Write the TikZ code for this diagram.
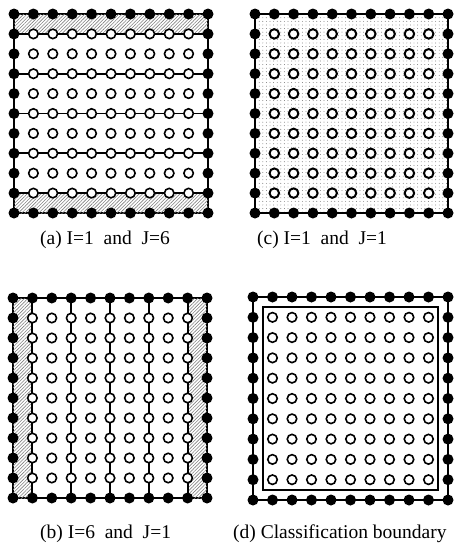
\documentclass[tikz,border=0pt]{standalone}
\usepackage{fontspec}
\setmainfont{Liberation Serif}
\usetikzlibrary{patterns.meta,calc}
\pgfdeclarelayer{background}
\pgfsetlayers{background,main}
\tikzset{
  bdot/.style={circle,fill=black,draw=none,minimum size=11pt,inner sep=0pt},
  wdot/.style={circle,fill=white,draw=black,line width=1.6pt,minimum size=9.5pt,inner sep=0pt},
  wdotc/.style={wdot,line width=2pt},
  gridline/.style={line width=1.9pt},
  hatch/.style={pattern={Lines[angle=45,distance=2.4pt,line width=0.6pt]},pattern color=black!50},
  dotfill/.style={pattern={Dots[distance=3.6pt,radius=0.45pt]},pattern color=black!60},
  caption/.style={anchor=base west,inner sep=0pt,font=\fontsize{19.5}{22}\selectfont},
  inner box/.style={draw=black,line width=1.6pt}
}
\newcommand\mkpanel[6]{%
  \foreach \i in {0,...,10}{
    \foreach \j in {0,...,10}{
      \pgfmathtruncatemacro\bd{(\i==0)||(\i==10)||(\j==0)||(\j==10)}
      \ifnum\bd=1
        \node[bdot] (#1-\i-\j) at ({#2+\i*#4},{#3+\j*#5}) {};
      \else
        \node[#6] (#1-\i-\j) at ({#2+\i*#4},{#3+\j*#5}) {};
      \fi
    }
  }
  \begin{pgfonlayer}{background}
    \draw[gridline] (#1-0-0.center) -- (#1-10-0.center) -- (#1-10-10.center) -- (#1-0-10.center) -- cycle;
  \end{pgfonlayer}
}
\begin{document}
\begin{tikzpicture}[x=1pt,y=-1pt]
\useasboundingbox (0,0) rectangle (461,547);

% (a)
\mkpanel{a}{14}{14}{19.4}{19.9}{wdot}
\begin{pgfonlayer}{background}
  \fill[hatch] (a-0-0.center) rectangle (a-10-1.center);
  \fill[hatch] (a-0-9.center) rectangle (a-10-10.center);
  \foreach \r in {1,3,5,7,9}{
    \draw[gridline] (a-0-\r.center) -- (a-10-\r.center);
  }
\end{pgfonlayer}

% (c)
\begin{pgfonlayer}{background}
  \fill[dotfill] (255,14) rectangle (448,213);
\end{pgfonlayer}
\mkpanel{c}{255}{14}{19.3}{19.9}{wdotc}

% (b)
\mkpanel{b}{13}{298}{19.4}{20}{wdot}
\begin{pgfonlayer}{background}
  \fill[hatch] (b-0-0.center) rectangle (b-1-10.center);
  \fill[hatch] (b-9-0.center) rectangle (b-10-10.center);
  \foreach \c in {1,3,5,7,9}{
    \draw[gridline] (b-\c-0.center) -- (b-\c-10.center);
  }
\end{pgfonlayer}

% (d)
\mkpanel{d}{253}{297}{19.5}{20.3}{wdot}
\coordinate (dtl) at ($(d-0-0)!0.5!(d-1-1)$);
\coordinate (dbr) at ($(d-9-9)!0.5!(d-10-10)$);
\draw[inner box] (dtl) rectangle (dbr);

% captions
\node[caption] (capa) at (40,244) {(a) I=1\ \ and\ \ J=6};
\node[caption] (capc) at (257,244) {(c) I=1\ \ and\ \ J=1};
\node[caption] (capb) at (40,538) {(b) I=6\ \ and\ \ J=1};
\node[caption] (capd) at (233,538) {(d) Classification boundary};
\end{tikzpicture}
\end{document}
